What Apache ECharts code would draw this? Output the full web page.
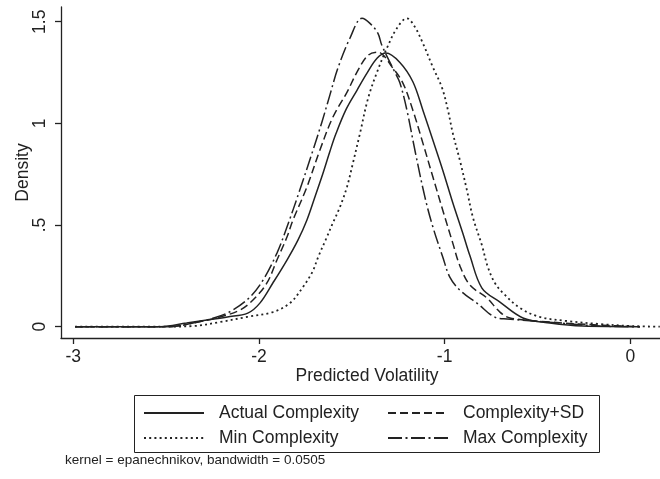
<!DOCTYPE html>
<html>
<head>
<meta charset="utf-8">
<script src="https://cdn.jsdelivr.net/npm/echarts@6/dist/echarts.min.js"></script>
<style>
  html, body { margin: 0; padding: 0; background: #fff; }
  #main { width: 660px; height: 479px; }
</style>
</head>
<body>
<div id="main"></div>
<script>
// kernel density curves, [predicted volatility, density]
var actualComplexity = [
  [-2.99, 0], [-2.53, 0], [-2.39, 0.018], [-2.28, 0.033], [-2.17, 0.048], [-2.06, 0.067],
  [-1.995, 0.116], [-1.925, 0.215], [-1.849, 0.328], [-1.79, 0.426], [-1.742, 0.524],
  [-1.699, 0.637], [-1.655, 0.755], [-1.618, 0.862], [-1.585, 0.950], [-1.53, 1.070],
  [-1.472, 1.163], [-1.418, 1.247], [-1.364, 1.320], [-1.316, 1.346], [-1.241, 1.300],
  [-1.171, 1.205], [-1.117, 1.065], [-1.063, 0.917], [-1.010, 0.770], [-0.956, 0.610],
  [-0.902, 0.460], [-0.864, 0.350], [-0.799, 0.190], [-0.702, 0.121], [-0.578, 0.043],
  [-0.433, 0.018], [-0.256, 0.003], [0.052, 0]
];
var minComplexity = [
  [-2.99, 0], [-2.53, 0], [-2.355, 0.003], [-2.21, 0.023], [-2.064, 0.048], [-1.925, 0.072],
  [-1.833, 0.116], [-1.763, 0.195], [-1.712, 0.270], [-1.680, 0.345], [-1.634, 0.441],
  [-1.602, 0.510], [-1.564, 0.588], [-1.526, 0.687], [-1.494, 0.804], [-1.456, 0.950],
  [-1.412, 1.124], [-1.364, 1.252], [-1.311, 1.370], [-1.257, 1.468], [-1.203, 1.517],
  [-1.160, 1.474], [-1.117, 1.394], [-1.063, 1.276], [-1.015, 1.178], [-0.982, 1.065],
  [-0.956, 0.952], [-0.918, 0.819], [-0.880, 0.672], [-0.848, 0.539], [-0.799, 0.400],
  [-0.767, 0.293], [-0.729, 0.215], [-0.686, 0.166], [-0.594, 0.092], [-0.487, 0.048],
  [-0.342, 0.028], [-0.164, 0.013], [0.014, 0.003], [0.159, 0]
];
var complexitySD = [
  [-2.99, 0], [-2.48, 0], [-2.355, 0.018], [-2.21, 0.048], [-2.102, 0.082], [-2.032, 0.131],
  [-1.957, 0.215], [-1.903, 0.328], [-1.849, 0.441], [-1.817, 0.524], [-1.742, 0.686],
  [-1.672, 0.868], [-1.602, 1.030], [-1.526, 1.153], [-1.472, 1.252], [-1.412, 1.335],
  [-1.359, 1.350], [-1.278, 1.271], [-1.224, 1.197], [-1.171, 1.065], [-1.117, 0.903],
  [-1.063, 0.736], [-1.010, 0.573], [-0.956, 0.411], [-0.918, 0.300], [-0.864, 0.205],
  [-0.772, 0.141], [-0.702, 0.072], [-0.648, 0.043], [-0.433, 0.023], [-0.164, 0.008], [0.052, 0]
];
var maxComplexity = [
  [-2.99, 0], [-2.48, 0], [-2.355, 0.018], [-2.226, 0.048], [-2.14, 0.082], [-2.048, 0.146],
  [-1.978, 0.229], [-1.903, 0.362], [-1.849, 0.490], [-1.78, 0.672], [-1.709, 0.868],
  [-1.661, 1.006], [-1.618, 1.139], [-1.575, 1.271], [-1.51, 1.419], [-1.445, 1.517],
  [-1.402, 1.492], [-1.359, 1.443], [-1.338, 1.384], [-1.268, 1.252], [-1.241, 1.200],
  [-1.203, 1.065], [-1.160, 0.868], [-1.106, 0.637], [-1.063, 0.490], [-1.010, 0.343],
  [-0.972, 0.244], [-0.918, 0.180], [-0.826, 0.116], [-0.718, 0.043], [-0.664, 0.038],
  [-0.379, 0.018], [-0.164, 0.003], [0.052, 0]
];

var xTicks = [-3, -2, -1, 0];
var yTicks = [0, 0.5, 1, 1.5];
var yTickLabels = ['0', '.5', '1', '1.5'];

var font = 'Liberation Sans, Arial, Helvetica, sans-serif';
var ink = '#222';

var chart = echarts.init(document.getElementById('main'), null, { renderer: 'canvas' });

function curve(name, data, dash, width) {
  return {
    name: name,
    type: 'line',
    data: data,
    smooth: 0.35,
    symbol: 'none',
    silent: true,
    lineStyle: { color: ink, width: width, type: dash, cap: 'butt' },
    itemStyle: { color: ink }
  };
}

var legendBase = {
  orient: 'vertical',
  padding: 0,
  itemWidth: 60,
  itemHeight: 20,
  itemGap: 5,
  // hide the marker circle, keep only the line sample
  itemStyle: { color: 'rgba(0,0,0,0)', borderWidth: 0, opacity: 0 },
  textStyle: { fontFamily: font, fontSize: 17.5, color: ink, lineHeight: 20, padding: [0, 0, 0, 10] }
};

var option = {
  backgroundColor: '#fff',
  animation: false,
  grid: { left: 61, right: 0, top: 7, bottom: 141, containLabel: false, outerBoundsMode: 'none' },
  xAxis: {
    type: 'value',
    min: -3.066,
    max: 0.160,
    name: 'Predicted Volatility',
    nameLocation: 'middle',
    nameGap: 29,
    nameMoveOverlap: false,
    // the plot region runs past the right edge, so the title sits a bit right of centre
    nameTextStyle: { fontFamily: font, fontSize: 17.5, color: ink, padding: [0, 0, 0, 13] },
    axisLine: { onZero: false, lineStyle: { color: ink, width: 1.3 } },
    axisTick: { show: true, length: 6, customValues: xTicks, lineStyle: { color: ink, width: 1.3 } },
    axisLabel: { customValues: xTicks, margin: 10, fontFamily: font, fontSize: 17.5, color: ink },
    splitLine: { show: false }
  },
  yAxis: {
    type: 'value',
    min: -0.0556,
    max: 1.5725,
    name: 'Density',
    nameLocation: 'middle',
    nameGap: 29,
    nameMoveOverlap: false,
    nameTextStyle: { fontFamily: font, fontSize: 17.5, color: ink },
    axisLine: { show: true, onZero: false, lineStyle: { color: ink, width: 1.3 } },
    axisTick: { show: true, length: 6, customValues: yTicks, lineStyle: { color: ink, width: 1.3 } },
    axisLabel: {
      customValues: yTicks,
      rotate: 90,
      margin: 12,
      fontFamily: font,
      fontSize: 17.5,
      color: ink,
      formatter: function (v) {
        var i = yTicks.indexOf(v);
        return i >= 0 ? yTickLabels[i] : '';
      }
    },
    splitLine: { show: false }
  },
  legend: [
    Object.assign({}, legendBase, { left: 143, top: 403, data: ['Actual Complexity', 'Min Complexity'] }),
    Object.assign({}, legendBase, { left: 387, top: 403, data: ['Complexity+SD', 'Max Complexity'] })
  ],
  graphic: [
    // legend frame
    {
      type: 'rect',
      shape: { x: 134.5, y: 395.5, width: 465, height: 57 },
      style: { fill: null, stroke: ink, lineWidth: 1 },
      silent: true
    },
    {
      type: 'text',
      left: 65,
      top: 453,
      style: { text: 'kernel = epanechnikov, bandwidth = 0.0505', fontFamily: font, fontSize: 13.5, fill: ink },
      silent: true
    }
  ],
  series: [
    curve('Actual Complexity', actualComplexity, 'solid', 1.5),
    curve('Min Complexity', minComplexity, [2, 3.2], 1.8),
    curve('Complexity+SD', complexitySD, [8, 4], 1.5),
    curve('Max Complexity', maxComplexity, [14, 3.5, 2, 3.5], 1.5)
  ]
};

chart.setOption(option);
</script>
</body>
</html>
